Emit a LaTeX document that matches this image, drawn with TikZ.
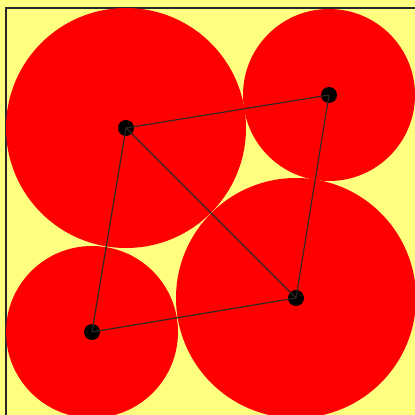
\documentclass[tikz,border=0pt]{standalone}
\definecolor{bgyellow}{RGB}{255,255,128}
\definecolor{disc}{RGB}{255,0,0}
\definecolor{edgegray}{RGB}{40,40,40}
\tikzset{
  dot/.style={circle,fill=black,inner sep=0pt,minimum size=16pt},
  bigdisc/.style={fill=disc},
  link/.style={draw=edgegray,line width=1.1pt}
}
\begin{document}
\begin{tikzpicture}[x=1pt,y=-1pt]
\useasboundingbox (0,0) rectangle (415,415);
\fill[bgyellow] (0,0) rectangle (415,415);
\draw[edgegray,line width=1.3pt] (6,8) rectangle (430,430);
\fill[bigdisc] (126,128) circle (120);
\fill[bigdisc] (329,95) circle (86);
\fill[bigdisc] (92,332) circle (86);
\fill[bigdisc] (296,298) circle (120);
\node[dot] (a) at (126,128) {};
\node[dot] (b) at (329,95) {};
\node[dot] (c) at (296,298) {};
\node[dot] (d) at (92,332) {};
\path[link] (a.center) -- (b.center) -- (c.center) -- (d.center) -- (a.center) -- (c.center);
\end{tikzpicture}
\end{document}
